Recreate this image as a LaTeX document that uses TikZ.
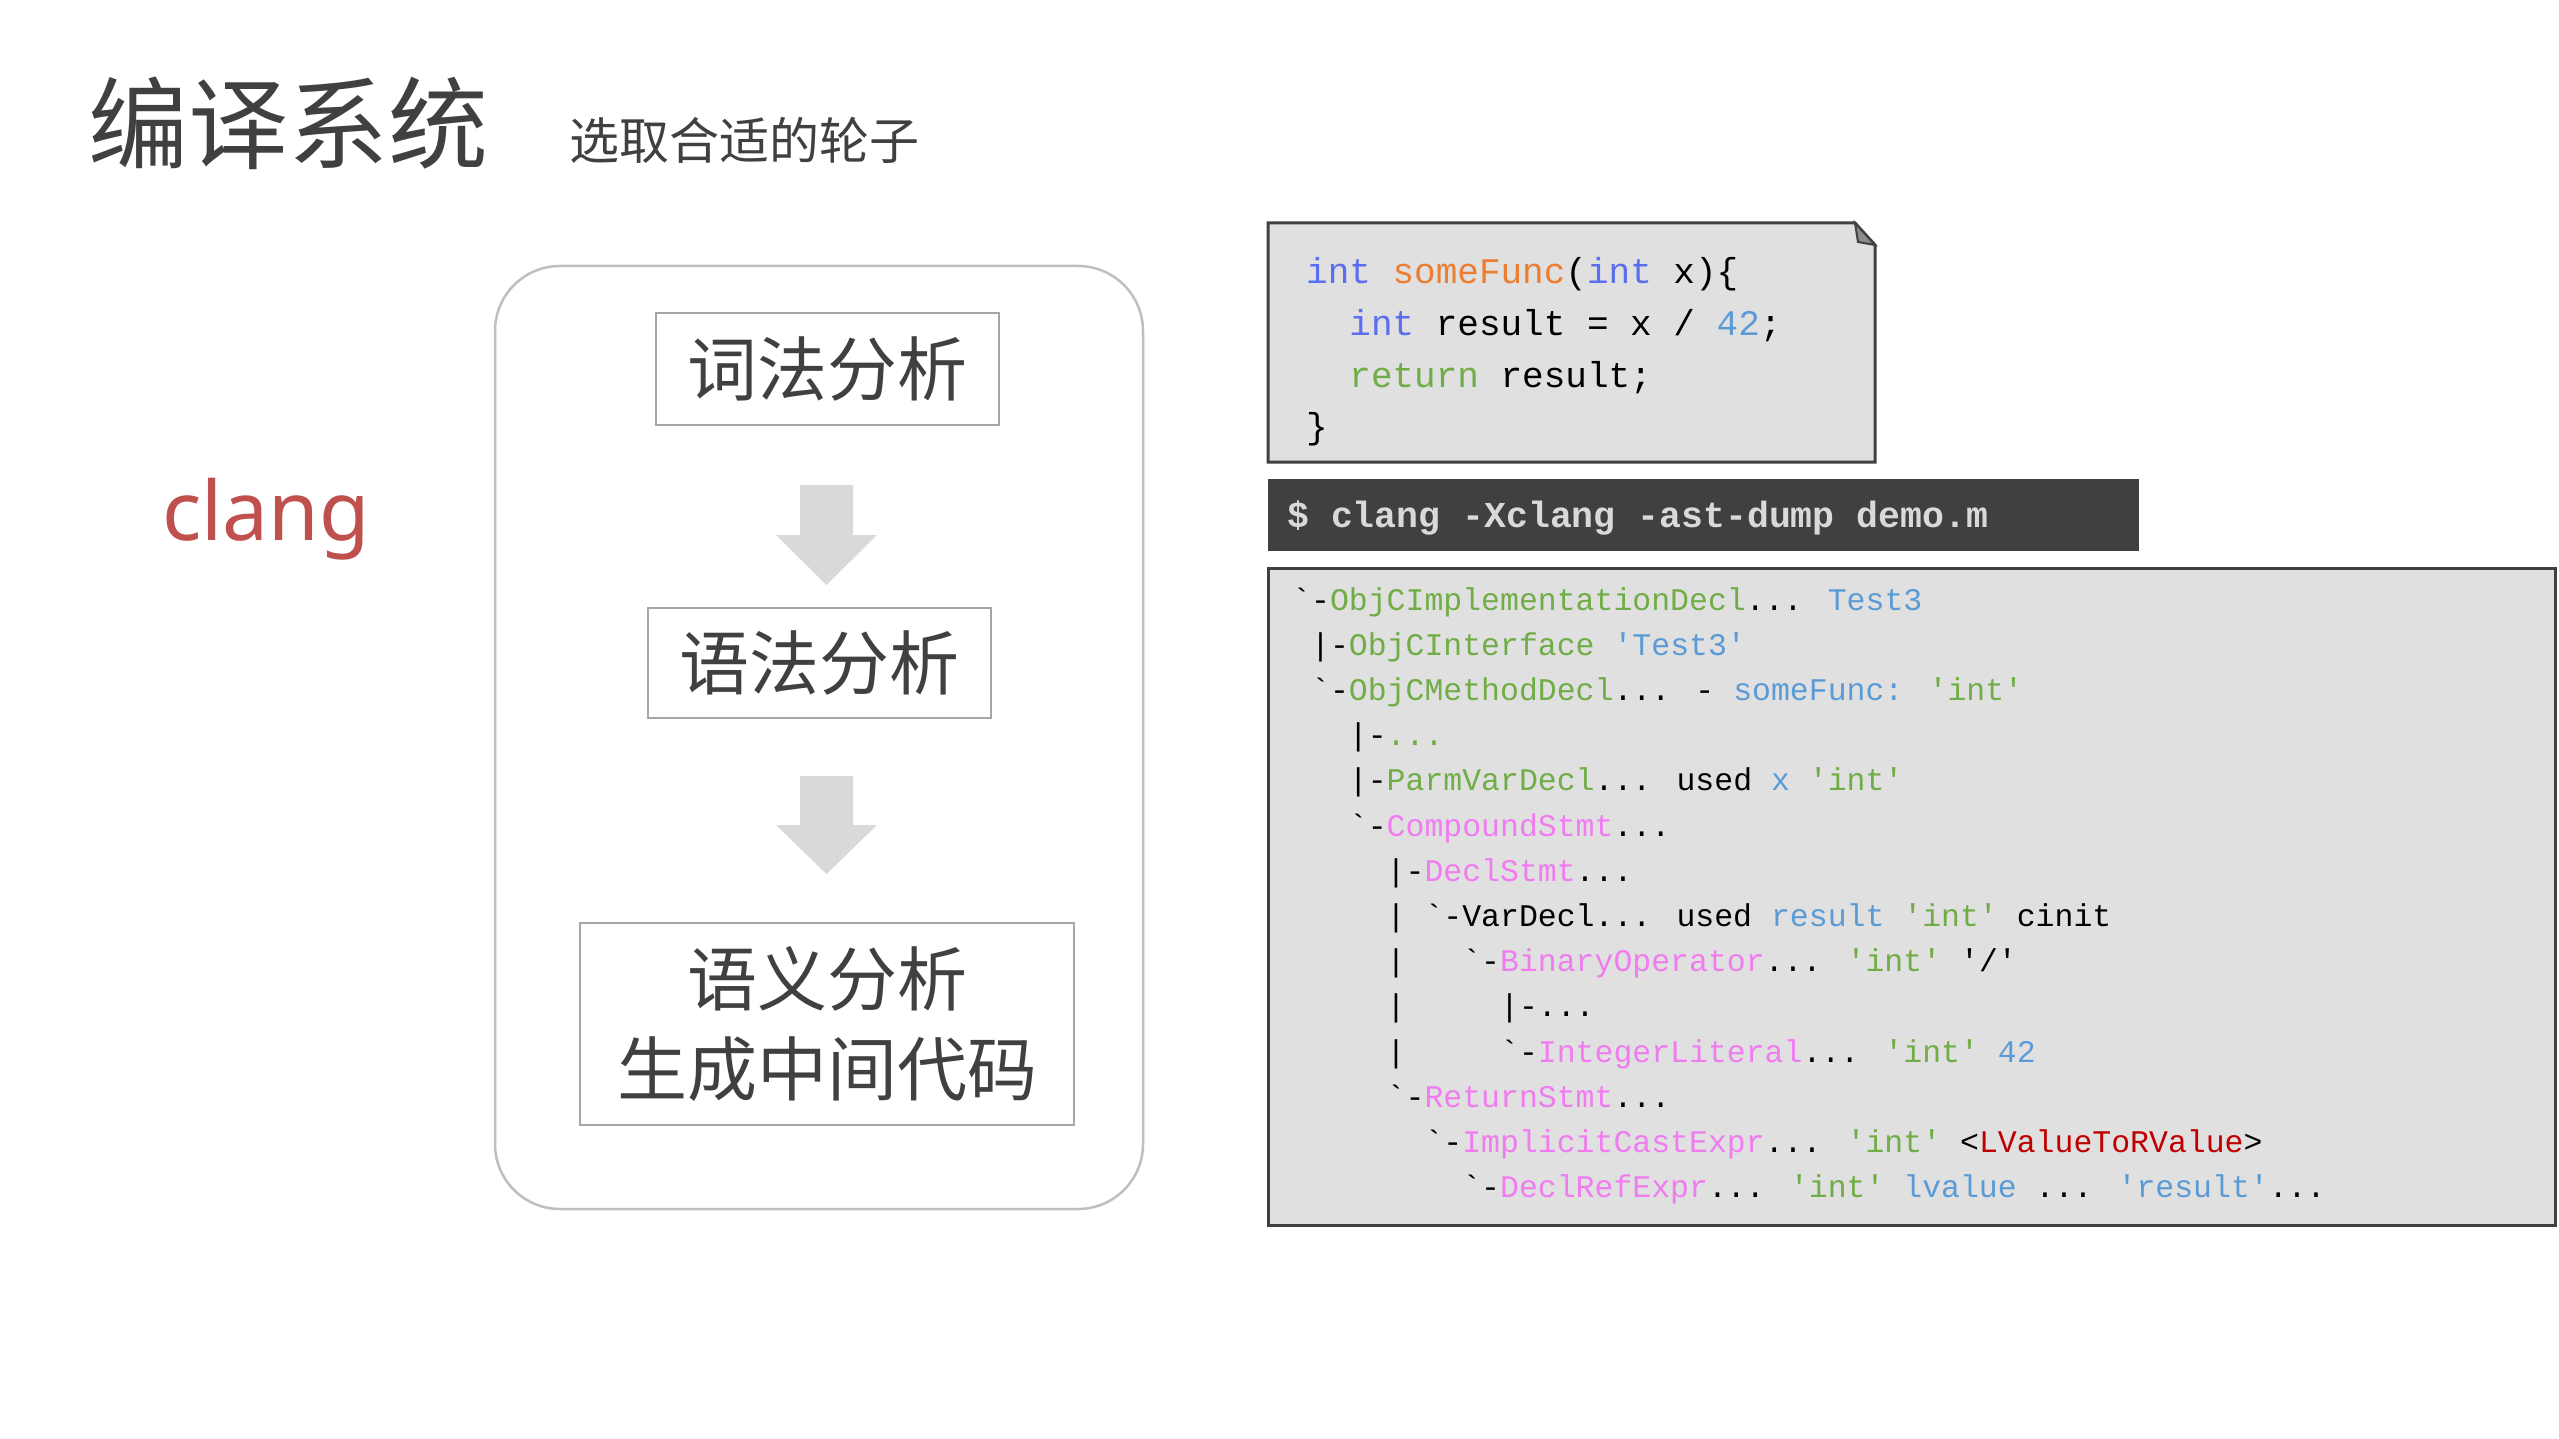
\documentclass[tikz,border=0pt]{standalone}
\usepackage{fontspec}
\newfontfamily\cjk{Noto Sans CJK SC}
\newfontfamily\mono{Liberation Mono}
\newfontfamily\sans{Noto Sans}
\definecolor{dk}{HTML}{404040}
\definecolor{cg}{HTML}{70AD47}
\definecolor{cb}{HTML}{5B9BD5}
\definecolor{cp}{HTML}{F07CF0}
\definecolor{cr}{HTML}{C00000}
\definecolor{co}{HTML}{ED7D31}
\definecolor{ci}{HTML}{5A6EF0}
\definecolor{boxfill}{HTML}{E0E0E0}
\definecolor{cl}{HTML}{C0504D}
\newcommand{\ind}[1]{\hspace*{#1\dimexpr 0.6em\relax}}
\begin{document}
\begin{tikzpicture}[x=1pt,y=-1pt,
  stagebox/.style={draw=black!35,line width=2pt,fill=white,inner sep=0pt,font=\cjk\fontsize{70}{90}\selectfont,text=dk,align=center},
  astline/.style={anchor=base west,inner sep=0pt,font=\mono\fontsize{31.5}{31.5}\selectfont},
  codeline/.style={anchor=base west,inner sep=0pt,font=\mono\fontsize{36}{36}\selectfont},
  downarrow/.style={fill=black!15,draw=none}]
\useasboundingbox (0,0) rectangle (2559,1439);
\fill[white] (0,0) rectangle (2559,1439);
% title
\node[anchor=base west,inner sep=0pt,font=\cjk\fontsize{100}{100}\selectfont,text=dk] (title) at (88,162) {编译系统};
\node[anchor=base west,inner sep=0pt,font=\cjk\fontsize{50}{50}\selectfont,text=dk] (sub) at (569,160) {选取合适的轮子};
\node[anchor=base west,inner sep=0pt,font=\sans\fontsize{82}{82}\selectfont,text=cl] (clang) at (162,540) {clang};
% pipeline
\draw[draw=black!25,line width=2.5pt,rounded corners=65pt] (495,266) rectangle (1143,1209);
\node[stagebox,minimum width=343pt,minimum height=112pt] (s1) at (827.5,369) {词法分析};
\node[stagebox,minimum width=343pt,minimum height=110pt] (s2) at (819.5,663) {语法分析};
\node[stagebox,minimum width=494pt,minimum height=202pt] (s3) at (827,1024) {语义分析\\生成中间代码};
\fill[downarrow] (800,485) -- (853,485) -- (853,535) -- (877,535) -- (826.5,585) -- (776,535) -- (800,535) -- cycle;
\fill[downarrow] (800,776) -- (853,776) -- (853,825) -- (877,825) -- (826.5,874) -- (776,825) -- (800,825) -- cycle;
% code box
\draw[dk,line width=3pt,fill=boxfill] (1268,223) -- (1855,223) -- (1875,245) -- (1875,462) -- (1268,462) -- cycle;
\draw[dk,line width=2pt,fill=black!45] (1855,223) -- (1858,242) -- (1875,245) -- cycle;
\node[codeline] (c1) at (1306,284) {\color{ci}int \color{co}someFunc\color{black}(\color{ci}int \color{black}x)\{};
\node[codeline] (c2) at (1306,335) {\ind{2}\color{ci}int \color{black}result = x / \color{cb}42\color{black};};
\node[codeline] (c3) at (1306,387) {\ind{2}\color{cg}return \color{black}result;};
\node[codeline] (c4) at (1306,438) {\}};
% command bar
\fill[dk] (1268,479) rectangle (2139,551);
\node[anchor=base west,inner sep=0pt,font=\mono\bfseries\fontsize{36.5}{36.5}\selectfont,text=black!15] (cmd) at (1287,527) {\$ clang -Xclang -ast-dump demo.m};
% AST box
\draw[dk,line width=3pt,fill=boxfill] (1268,568) rectangle (2555,1225);
\foreach \i/\t in {
0/{`-\color{cg}ObjCImplementationDecl\color{black}... \color{cb}Test3},
1/{\ind{1}|-\color{cg}ObjCInterface \color{cb}'Test3'},
2/{\ind{1}`-\color{cg}ObjCMethodDecl\color{black}... - \color{cb}someFunc: \color{cg}'int'},
3/{\ind{3}|-\color{cg}...},
4/{\ind{3}|-\color{cg}ParmVarDecl\color{black}... used \color{cb}x \color{cg}'int'},
5/{\ind{3}`-\color{cp}CompoundStmt\color{black}...},
6/{\ind{5}|-\color{cp}DeclStmt\color{black}...},
7/{\ind{5}|\ind{1}`-VarDecl... used \color{cb}result \color{cg}'int' \color{black}cinit},
8/{\ind{5}|\ind{3}`-\color{cp}BinaryOperator\color{black}... \color{cg}'int' \color{black}'/'},
9/{\ind{5}|\ind{5}|-...},
10/{\ind{5}|\ind{5}`-\color{cp}IntegerLiteral\color{black}... \color{cg}'int' \color{cb}42},
11/{\ind{5}`-\color{cp}ReturnStmt\color{black}...},
12/{\ind{7}`-\color{cp}ImplicitCastExpr\color{black}... \color{cg}'int' \color{black}<\color{cr}LValueToRValue\color{black}>},
13/{\ind{9}`-\color{cp}DeclRefExpr\color{black}... \color{cg}'int' \color{cb}lvalue \color{black}... \color{cb}'result'\color{black}...}}
  \node[astline] (a\i) at (1292,{610+45.2*\i}) {\t};
\end{tikzpicture}
\end{document}
